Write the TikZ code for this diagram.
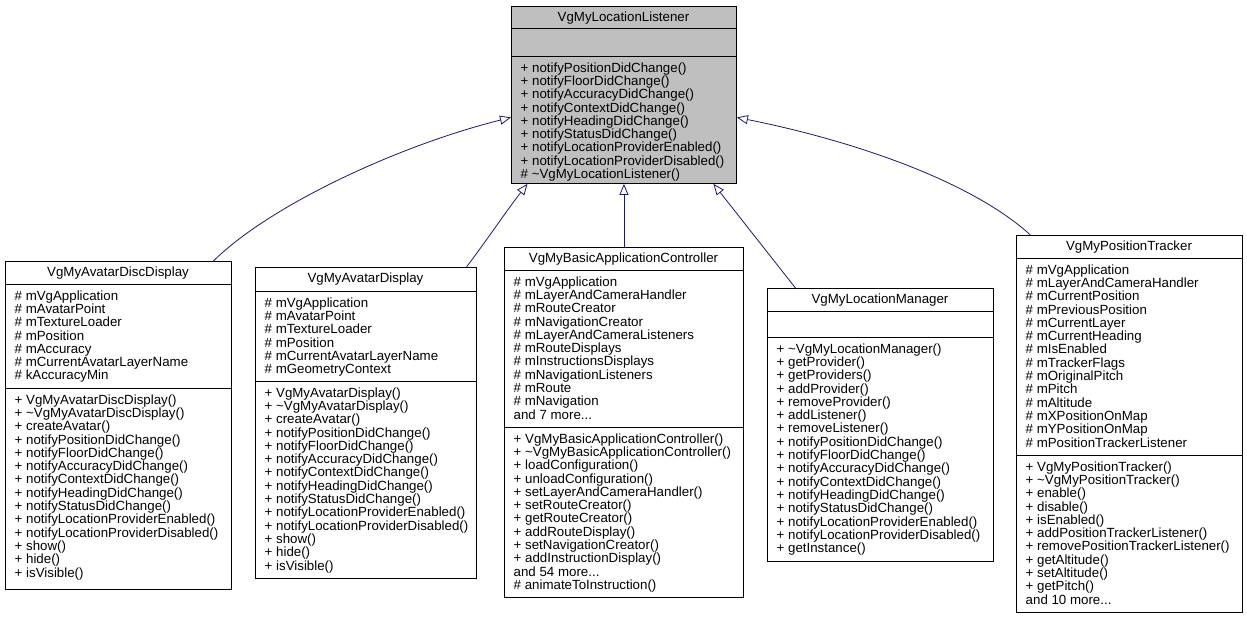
\documentclass[tikz,border=0pt]{standalone}
\usepackage{fontspec}
\setmainfont{Liberation Sans}
\usetikzlibrary{arrows.meta}
\definecolor{edgeblue}{HTML}{191970}
\definecolor{basegray}{HTML}{BFBFBF}
\newcommand{\umlfont}{\fontsize{13.3}{13.3}\selectfont}

\begin{document}
\begin{tikzpicture}[x=1pt, y=-1pt,
	box/.style={draw, line width=0.9pt, fill=white, anchor=north west, inner sep=0pt},
	title/.style={anchor=base, inner sep=0pt, font=\umlfont},
	txt/.style={anchor=north west, inner sep=0pt, align=left, font=\umlfont, execute at begin node=\strut},
	inherit/.style={draw=edgeblue, line width=0.8pt, -{Triangle[open, fill=white, length=11pt, width=9pt]}}]
	\useasboundingbox (0,0) rectangle (1247,619);
	% classes
	\node[box, fill=basegray, minimum width=225pt, minimum height=177pt] (lis) at (511,6) {};
	\node[box, minimum width=226pt, minimum height=328pt] (disc) at (5,261) {};
	\node[box, minimum width=221pt, minimum height=311pt] (avatar) at (255,267) {};
	\node[box, minimum width=239pt, minimum height=350pt] (basic) at (504,247) {};
	\node[box, minimum width=226pt, minimum height=273pt] (manager) at (767,288) {};
	\node[box, minimum width=226pt, minimum height=377pt] (tracker) at (1016,235) {};
	% dividers
	\draw[line width=0.9pt] (lis.west |- 0,28) -- (lis.east |- 0,28);
	\draw[line width=0.9pt] (lis.west |- 0,56) -- (lis.east |- 0,56);
	\draw[line width=0.9pt] (disc.west |- 0,284) -- (disc.east |- 0,284);
	\draw[line width=0.9pt] (disc.west |- 0,388) -- (disc.east |- 0,388);
	\draw[line width=0.9pt] (avatar.west |- 0,291) -- (avatar.east |- 0,291);
	\draw[line width=0.9pt] (avatar.west |- 0,381) -- (avatar.east |- 0,381);
	\draw[line width=0.9pt] (basic.west |- 0,270) -- (basic.east |- 0,270);
	\draw[line width=0.9pt] (basic.west |- 0,427) -- (basic.east |- 0,427);
	\draw[line width=0.9pt] (manager.west |- 0,311) -- (manager.east |- 0,311);
	\draw[line width=0.9pt] (manager.west |- 0,337) -- (manager.east |- 0,337);
	\draw[line width=0.9pt] (tracker.west |- 0,258) -- (tracker.east |- 0,258);
	\draw[line width=0.9pt] (tracker.west |- 0,455) -- (tracker.east |- 0,455);
	% titles
	\node[title] (lisT) at (623.5,21.5) {VgMyLocationListener};
	\node[title] (discT) at (118,276.5) {VgMyAvatarDiscDisplay};
	\node[title] (avatarT) at (365.5,282.5) {VgMyAvatarDisplay};
	\node[title] (basicT) at (623.5,262.5) {VgMyBasicApplicationController};
	\node[title] (managerT) at (880,303.5) {VgMyLocationManager};
	\node[title] (trackerT) at (1129,250.5) {VgMyPositionTracker};
	% members
	\node[txt] (lisM) at (520.5,62.3) {+ notifyPositionDidChange()\\+ notifyFloorDidChange()\\+ notifyAccuracyDidChange()\\+ notifyContextDidChange()\\+ notifyHeadingDidChange()\\+ notifyStatusDidChange()\\+ notifyLocationProviderEnabled()\\+ notifyLocationProviderDisabled()\\\# \textasciitilde VgMyLocationListener()};
	\node[txt] (discA) at (14.5,290.3) {\# mVgApplication\\\# mAvatarPoint\\\# mTextureLoader\\\# mPosition\\\# mAccuracy\\\# mCurrentAvatarLayerName\\\# kAccuracyMin};
	\node[txt] (discM) at (14.5,394.3) {+ VgMyAvatarDiscDisplay()\\+ \textasciitilde VgMyAvatarDiscDisplay()\\+ createAvatar()\\+ notifyPositionDidChange()\\+ notifyFloorDidChange()\\+ notifyAccuracyDidChange()\\+ notifyContextDidChange()\\+ notifyHeadingDidChange()\\+ notifyStatusDidChange()\\+ notifyLocationProviderEnabled()\\+ notifyLocationProviderDisabled()\\+ show()\\+ hide()\\+ isVisible()};
	\node[txt] (avatarA) at (264.5,297.3) {\# mVgApplication\\\# mAvatarPoint\\\# mTextureLoader\\\# mPosition\\\# mCurrentAvatarLayerName\\\# mGeometryContext};
	\node[txt] (avatarM) at (264.5,387.3) {+ VgMyAvatarDisplay()\\+ \textasciitilde VgMyAvatarDisplay()\\+ createAvatar()\\+ notifyPositionDidChange()\\+ notifyFloorDidChange()\\+ notifyAccuracyDidChange()\\+ notifyContextDidChange()\\+ notifyHeadingDidChange()\\+ notifyStatusDidChange()\\+ notifyLocationProviderEnabled()\\+ notifyLocationProviderDisabled()\\+ show()\\+ hide()\\+ isVisible()};
	\node[txt] (basicA) at (513.5,276.3) {\# mVgApplication\\\# mLayerAndCameraHandler\\\# mRouteCreator\\\# mNavigationCreator\\\# mLayerAndCameraListeners\\\# mRouteDisplays\\\# mInstructionsDisplays\\\# mNavigationListeners\\\# mRoute\\\# mNavigation\\and 7 more...};
	\node[txt] (basicM) at (513.5,433.3) {+ VgMyBasicApplicationController()\\+ \textasciitilde VgMyBasicApplicationController()\\+ loadConfiguration()\\+ unloadConfiguration()\\+ setLayerAndCameraHandler()\\+ setRouteCreator()\\+ getRouteCreator()\\+ addRouteDisplay()\\+ setNavigationCreator()\\+ addInstructionDisplay()\\and 54 more...\\\# animateToInstruction()};
	\node[txt] (managerM) at (776.5,343.3) {+ \textasciitilde VgMyLocationManager()\\+ getProvider()\\+ getProviders()\\+ addProvider()\\+ removeProvider()\\+ addListener()\\+ removeListener()\\+ notifyPositionDidChange()\\+ notifyFloorDidChange()\\+ notifyAccuracyDidChange()\\+ notifyContextDidChange()\\+ notifyHeadingDidChange()\\+ notifyStatusDidChange()\\+ notifyLocationProviderEnabled()\\+ notifyLocationProviderDisabled()\\+ getInstance()};
	\node[txt] (trackerA) at (1025.5,264.3) {\# mVgApplication\\\# mLayerAndCameraHandler\\\# mCurrentPosition\\\# mPreviousPosition\\\# mCurrentLayer\\\# mCurrentHeading\\\# mIsEnabled\\\# mTrackerFlags\\\# mOriginalPitch\\\# mPitch\\\# mAltitude\\\# mXPositionOnMap\\\# mYPositionOnMap\\\# mPositionTrackerListener};
	\node[txt] (trackerM) at (1025.5,461.3) {+ VgMyPositionTracker()\\+ \textasciitilde VgMyPositionTracker()\\+ enable()\\+ disable()\\+ isEnabled()\\+ addPositionTrackerListener()\\+ removePositionTrackerListener()\\+ getAltitude()\\+ setAltitude()\\+ getPitch()\\and 10 more...};
	% inheritance
	\draw[inherit] ([xshift=95pt]disc.north) .. controls (270,205) and (400,145) .. ([yshift=-22.5pt]lis.west);
	\draw[inherit] ([xshift=100.5pt]avatar.north) .. controls (487,240) and (507,210) .. ([xshift=-96.5pt]lis.south);
	\draw[inherit] (basic.north) -- (lis.south);
	\draw[inherit] ([xshift=-85pt]manager.north) .. controls (775,262) and (738,215) .. ([xshift=89.5pt]lis.south);
	\draw[inherit] ([xshift=-99pt]tracker.north) .. controls (970,180) and (850,140) .. ([yshift=-22.5pt]lis.east);
\end{tikzpicture}
\end{document}
